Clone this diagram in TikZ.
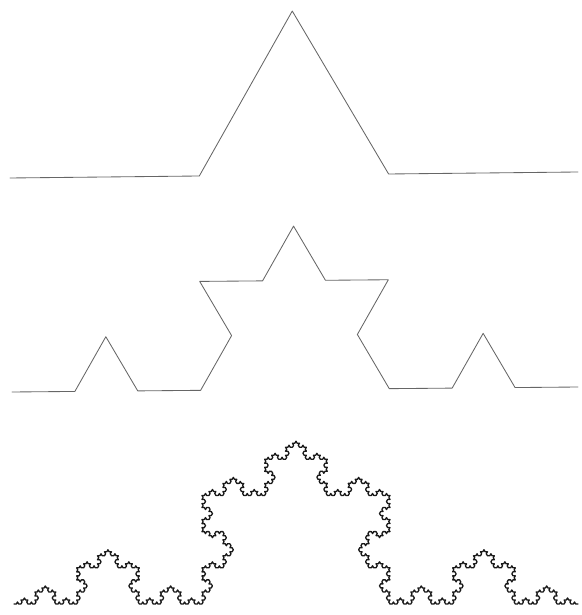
\documentclass[tikz,border=0pt]{standalone}
\usetikzlibrary{decorations.fractals}

\tikzset{
  koch/.style={decoration=Koch snowflake, line join=round, line cap=round},
  thinline/.style={koch, draw=black!60, line width=0.85pt},
  thickline/.style={koch, draw=black!90, line width=1.3pt}
}

\begin{document}
\begin{tikzpicture}[x=1pt, y=1pt]
  \useasboundingbox (0,0) rectangle (581,615);
  % end points of the three curves
  \coordinate (top-l) at (10,437);
  \coordinate (top-r) at (578,443);
  \coordinate (mid-l) at (12,223);
  \coordinate (mid-r) at (578,228);
  \coordinate (bot-l) at (14,11);
  \coordinate (bot-r) at (578,11);
  % first step
  \draw[thinline] decorate{ (top-l) -- (top-r) };
  % second step
  \draw[thinline] decorate{ decorate{ (mid-l) -- (mid-r) }};
  % fifth step
  \draw[thickline] decorate{ decorate{ decorate{ decorate{ decorate{ (bot-l) -- (bot-r) }}}}};
\end{tikzpicture}
\end{document}
